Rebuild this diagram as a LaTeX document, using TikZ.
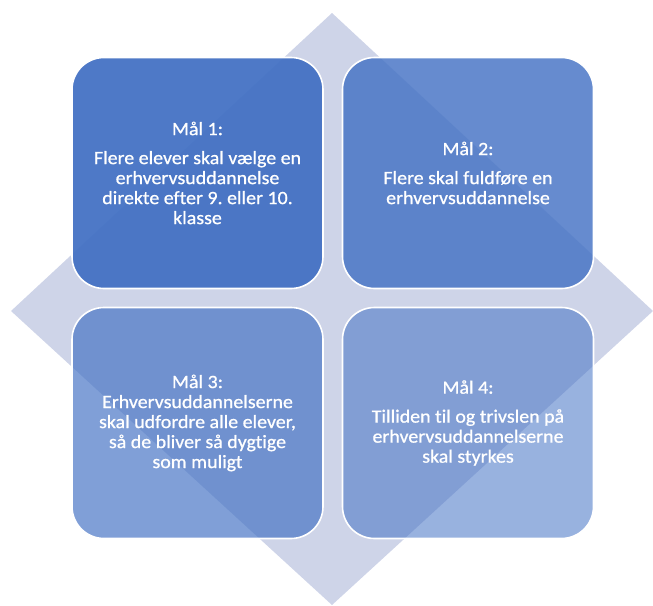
\documentclass[tikz,border=0pt]{standalone}
\usepackage{fontspec}
\setmainfont{Carlito}[FakeStretch=1.06, FakeBold=0.8, Ligatures=NoCommon]
\frenchspacing
\definecolor{acc}{RGB}{68,114,196}
\definecolor{dia}{RGB}{206,212,232}
\tikzset{
  goal/.style={draw=white, line width=1.6pt, rounded corners=32pt, fill=acc,
    text=white, text opacity=1, align=center, minimum width=251pt, minimum height=231pt,
    inner sep=0pt, font=\fontsize{18.8}{20}\selectfont\frenchspacing},
}
\begin{document}
\begin{tikzpicture}[x=1pt,y=-1pt]
\useasboundingbox (0,0) rectangle (653,605);
\fill[dia] (332,13) -- (653,311) -- (332,605) -- (11,311) -- cycle;
\node[goal, fill opacity=0.95] (g1) at (197.5,173) {Mål 1:\\[9pt]Flere elever skal vælge en\\erhvervsuddannelse\\direkte efter 9. eller 10.\\klasse};
\node[goal, fill opacity=0.82] (g2) at (468,173) {Mål 2:\\[9pt]Flere skal fuldføre en\\erhvervsuddannelse};
\node[goal, fill opacity=0.68] (g3) at (197.5,423) {Mål 3:\\Erhvervsuddannelserne\\skal udfordre alle elever,\\så de bliver så dygtige\\som muligt};
\node[goal, fill opacity=0.55] (g4) at (468,423) {Mål 4:\\[9pt]Tilliden til og trivslen på\\erhvervsuddannelserne\\skal styrkes};
\end{tikzpicture}
\end{document}
